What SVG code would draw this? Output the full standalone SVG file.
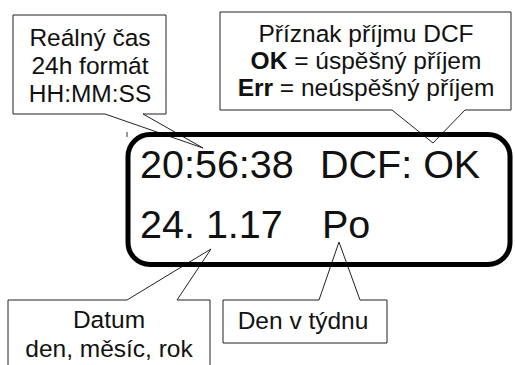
<svg xmlns="http://www.w3.org/2000/svg" width="515" height="365" viewBox="0 0 515 365">
<style>
.co{fill:#fff;stroke:#222;stroke-width:1}
.ct{font-family:"Liberation Sans",Arial,sans-serif;font-size:24.5px;fill:#111;text-anchor:middle}
.lcd{font-family:"Liberation Sans",Arial,sans-serif;font-size:39.5px;fill:#111}
</style>
<rect width="515" height="365" fill="#fff"/>
<g id="connectors">
<line x1="127" y1="132" x2="127" y2="137" stroke="#333" stroke-width="1"/>
</g>
<g id="callout-time">
<path class="co" d="M13,15 H166 V114 H143 L203,148 L105,114 H13 Z"/>
<text class="ct" x="90" y="46">Reálný čas</text>
<text class="ct" x="90" y="74">24h formát</text>
<text class="ct" x="90" y="102">HH:MM:SS</text>
</g>
<g id="callout-dcf">
<path class="co" d="M220,12 H511 V110 H465 L433,143 L392,110 H220 Z"/>
<text class="ct" x="366" y="42">Příznak příjmu DCF</text>
<text class="ct" x="366" y="69"><tspan font-weight="bold">OK</tspan> = úspěšný příjem</text>
<text class="ct" x="366" y="96"><tspan font-weight="bold">Err</tspan> = neúspěšný příjem</text>
</g>
<g id="callout-date">
<path class="co" d="M8,370 V300 H127 L211,249 L177,300 H210 V370"/>
<text class="ct" x="109" y="328">Datum</text>
<text class="ct" x="109" y="357">den, měsíc, rok</text>
</g>
<g id="callout-day">
<path class="co" d="M223,300 H319 L339,242 L360,300 H387 V343 H223 Z"/>
<text class="ct" x="303" y="329">Den v týdnu</text>
</g>
<g id="lcd">
<rect x="128" y="134.5" width="382" height="130" rx="22" ry="22" fill="none" stroke="#000" stroke-width="5"/>
<text class="lcd" x="140" y="178">20:56:38</text>
<text class="lcd" x="320" y="178">DCF: OK</text>
<text class="lcd" x="140" y="238">24. 1.17</text>
<text class="lcd" x="322" y="238">Po</text>
</g>
</svg>
